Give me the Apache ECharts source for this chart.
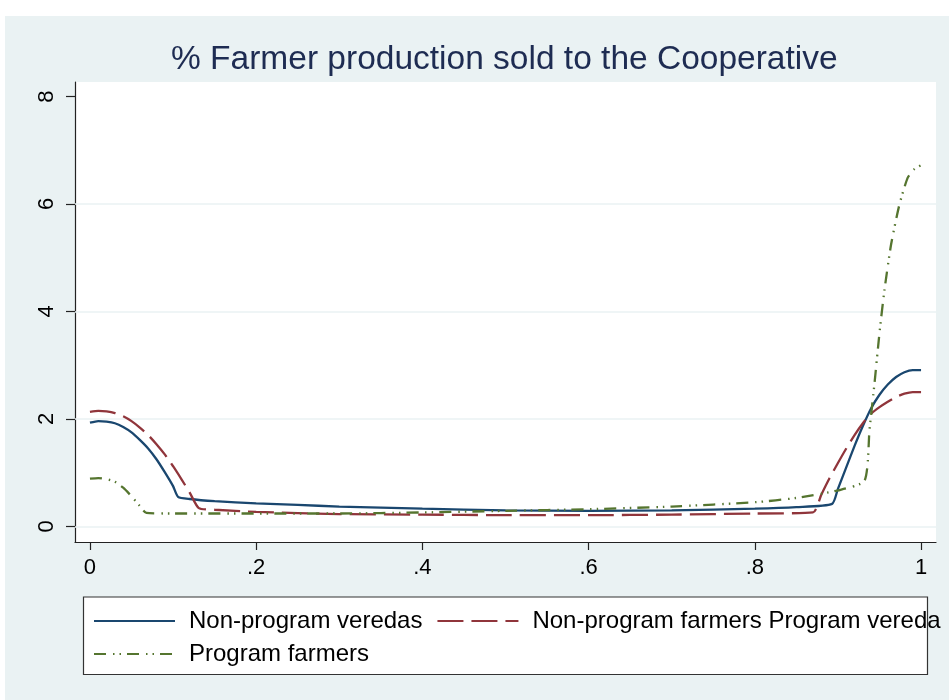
<!DOCTYPE html>
<html>
<head>
<meta charset="utf-8">
<title>% Farmer production sold to the Cooperative</title>
<script src="https://cdn.jsdelivr.net/npm/echarts@6/dist/echarts.min.js"></script>
<style>
  html, body { margin: 0; padding: 0; background: #fff; }
  #chart { width: 949px; height: 700px; }
</style>
</head>
<body>
<div id="chart"></div>
<script>
// values: [share, value]
const nonProgramVeredas = [
  [0, 1.93], [0.01, 1.96], [0.02, 1.95], [0.03, 1.92], [0.04, 1.85], [0.05, 1.75],
  [0.06, 1.61], [0.07, 1.45], [0.08, 1.25], [0.09, 1.01], [0.1, 0.75], [0.106, 0.55],
  [0.12, 0.51], [0.15, 0.47], [0.2, 0.43], [0.25, 0.40], [0.3, 0.37], [0.4, 0.33],
  [0.5, 0.30], [0.6, 0.29], [0.7, 0.30], [0.8, 0.33], [0.85, 0.36], [0.893, 0.42],
  [0.9, 0.70], [0.91, 1.10], [0.92, 1.50], [0.93, 1.87], [0.94, 2.20], [0.95, 2.45],
  [0.96, 2.64], [0.97, 2.78], [0.98, 2.87], [0.99, 2.91], [1.0, 2.91]
]
const nonProgramFarmers = [
  [0, 2.13], [0.01, 2.15], [0.02, 2.14], [0.03, 2.11], [0.04, 2.05], [0.05, 1.96],
  [0.06, 1.84], [0.07, 1.70], [0.08, 1.53], [0.09, 1.34], [0.1, 1.12], [0.11, 0.88],
  [0.12, 0.63], [0.131, 0.34], [0.15, 0.31], [0.2, 0.27], [0.3, 0.23], [0.4, 0.22],
  [0.5, 0.21], [0.6, 0.21], [0.7, 0.22], [0.8, 0.24], [0.87, 0.26], [0.88, 0.59],
  [0.89, 0.90], [0.9, 1.18], [0.91, 1.45], [0.92, 1.70], [0.93, 1.92], [0.94, 2.10],
  [0.95, 2.22], [0.96, 2.32], [0.97, 2.41], [0.98, 2.47], [0.99, 2.50], [1.0, 2.50]
]
const programFarmers = [
  [0, 0.89], [0.01, 0.90], [0.02, 0.88], [0.03, 0.83], [0.04, 0.72], [0.05, 0.56],
  [0.06, 0.38], [0.068, 0.25], [0.1, 0.24], [0.2, 0.24], [0.3, 0.24], [0.4, 0.26],
  [0.5, 0.29], [0.6, 0.32], [0.7, 0.37], [0.8, 0.45], [0.85, 0.53], [0.9, 0.67],
  [0.932, 0.85], [0.938, 1.80], [0.944, 2.66], [0.95, 3.60], [0.956, 4.40],
  [0.964, 5.25], [0.974, 5.99], [0.984, 6.49], [0.992, 6.65], [1.0, 6.72]
]

const seriesNames = ['Non-program veredas', 'Non-program farmers Program vereda', 'Program farmers']
const xTicks = [0, 0.2, 0.4, 0.6, 0.8, 1]
const yTicks = [0, 2, 4, 6, 8]
const gridValues = [0, 2, 4, 6]

const FONT = '"Liberation Sans", Arial, Helvetica, sans-serif'
const PANEL = '#eaf2f3'

const chart = echarts.init(document.getElementById('chart'))

const legendText = { color: '#000', fontSize: 24, fontFamily: FONT, lineHeight: 26, padding: [0, 0, 0, 9] }

chart.setOption({
  backgroundColor: '#fff',
  animation: false,
  graphic: [
    { type: 'rect', z: -10, shape: { x: 5, y: 16, width: 944, height: 684 }, style: { fill: PANEL } },
    { type: 'rect', z: -5, shape: { x: 83.5, y: 597, width: 844, height: 77.5 },
      style: { fill: '#fff', stroke: '#333', lineWidth: 1.2 } }
  ],
  title: {
    text: '% Farmer production sold to the Cooperative',
    left: 166,
    top: 38,
    textStyle: { color: '#1e2c52', fontSize: 33.5, fontWeight: 'normal', fontFamily: FONT }
  },
  legend: [
    {
      data: seriesNames.slice(0, 2),
      left: 93, top: 608, padding: 0,
      itemWidth: 81, itemHeight: 10, itemGap: 14,
      itemStyle: { opacity: 0 },
      textStyle: legendText
    },
    {
      data: seriesNames.slice(2),
      left: 93, top: 641, padding: 0,
      itemWidth: 81, itemHeight: 10,
      itemStyle: { opacity: 0 },
      textStyle: legendText
    }
  ],
  grid: {
    left: 75, top: 82, right: 13, bottom: 158,
    show: true, backgroundColor: '#fff', borderWidth: 0
  },
  xAxis: {
    type: 'value',
    min: -0.018, max: 1.018,
    axisLine: { show: true, onZero: false, lineStyle: { color: '#222', width: 1.2 } },
    axisTick: { show: true, customValues: xTicks, length: 8, lineStyle: { color: '#222', width: 1.2 } },
    axisLabel: {
      customValues: xTicks, margin: 15, color: '#000', fontSize: 22, fontFamily: FONT,
      formatter: v => v === 0 ? '0' : v === 1 ? '1' : String(v).replace(/^0/, '')
    },
    splitLine: { show: false }
  },
  yAxis: {
    type: 'value',
    min: -0.29, max: 8.27,
    axisLine: { show: true, onZero: false, lineStyle: { color: '#222', width: 1.2 } },
    axisTick: { show: true, customValues: yTicks, length: 9, lineStyle: { color: '#222', width: 1.2 } },
    axisLabel: {
      customValues: yTicks, rotate: 90, margin: 17, color: '#000', fontSize: 22, fontFamily: FONT
    },
    splitLine: { show: false }
  },
  series: [
    {
      name: seriesNames[0], type: 'line', data: nonProgramVeredas,
      symbol: 'none', smooth: 0.2, z: 3,
      lineStyle: { color: '#1a476f', width: 2.3 },
      itemStyle: { color: '#1a476f' },
      markLine: {
        silent: true, symbol: ['none', 'none'], z: 1,
        label: { show: false },
        lineStyle: { color: PANEL, type: 'solid', width: 1.5 },
        data: gridValues.map(v => ({ yAxis: v }))
      }
    },
    {
      name: seriesNames[1], type: 'line', data: nonProgramFarmers,
      symbol: 'none', smooth: 0.2, z: 3,
      lineStyle: { color: '#90353b', width: 2.3, type: [26, 8] },
      itemStyle: { color: '#90353b' }
    },
    {
      name: seriesNames[2], type: 'line', data: programFarmers,
      symbol: 'none', smooth: 0.2, z: 3,
      lineStyle: { color: '#55752f', width: 2.3, type: [12, 7, 1.5, 5, 1.5, 6] },
      itemStyle: { color: '#55752f' }
    }
  ]
})
</script>
</body>
</html>
